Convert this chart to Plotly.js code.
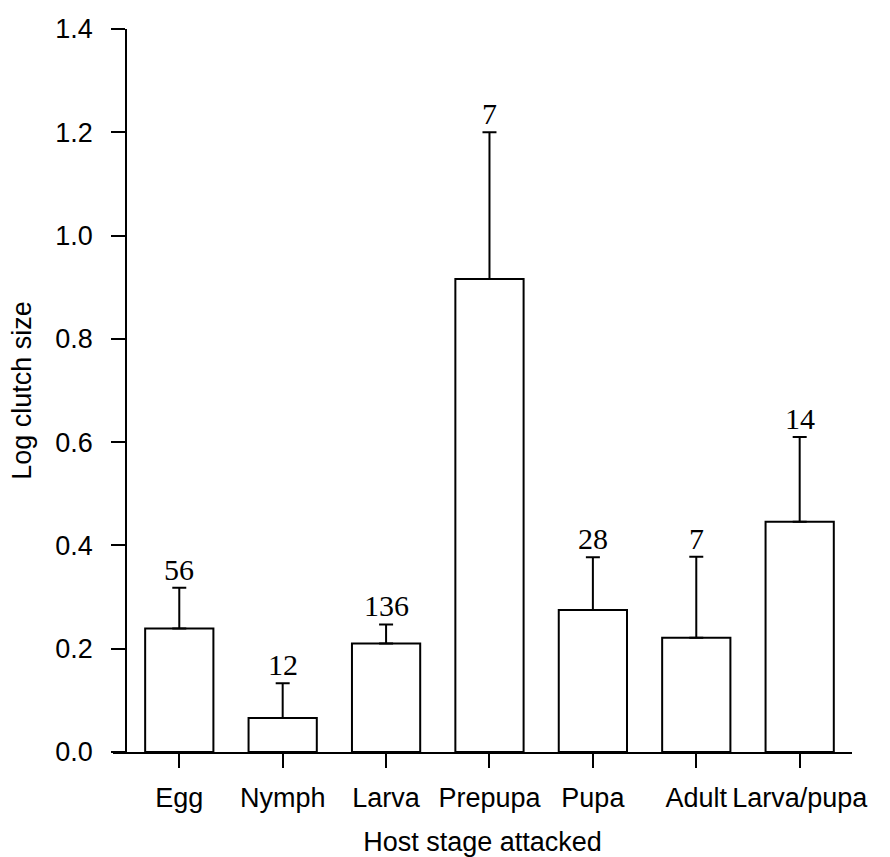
<!DOCTYPE html>
<html>
<head>
<meta charset="utf-8">
<script src="https://cdn.plot.ly/plotly-3.0.1.min.js"></script>
<style>html,body{margin:0;padding:0;background:#fff;}#chart{width:890px;height:857px;}</style>
</head>
<body>
<div id="chart"></div>
<script>
const stages = ["Egg", "Nymph", "Larva", "Prepupa", "Pupa", "Adult", "Larva/pupa"];
const logClutch = [0.239, 0.066, 0.210, 0.916, 0.275, 0.221, 0.446];
const errUpper = [0.079, 0.067, 0.037, 0.284, 0.102, 0.157, 0.164];
const sampleN = ["56", "12", "136", "7", "28", "7", "14"];
const yTicks = [0, 0.2, 0.4, 0.6, 0.8, 1.0, 1.2, 1.4];

const trace = {
  type: "bar",
  x: stages,
  y: logClutch,
  width: 0.66,
  marker: {color: "#ffffff", line: {color: "#000000", width: 2}},
  error_y: {type: "data", symmetric: false, array: errUpper, arrayminus: stages.map(() => 0),
            color: "#000000", thickness: 2, width: 7},
  hoverinfo: "x+y"
};

const annotations = stages.map((s, i) => ({
  x: s, y: logClutch[i] + errUpper[i], xref: "x", yref: "y",
  text: sampleN[i], showarrow: false, yanchor: "bottom", yshift: 0,
  font: {family: "Liberation Serif, Times New Roman, serif", size: 30, color: "#000"}
}));

const layout = {
  width: 890, height: 857,
  margin: {l: 113, r: 38, t: 29, b: 105, pad: 0},
  paper_bgcolor: "#fff", plot_bgcolor: "#fff",
  showlegend: false,
  font: {family: "Liberation Sans, Arial, sans-serif", size: 27, color: "#000"},
  xaxis: {
    type: "category", range: [-0.641, 6.506],
    showline: true, linecolor: "#000", linewidth: 2,
    ticks: "outside", ticklen: 14, tickwidth: 2, tickcolor: "#000",
    showgrid: false, zeroline: false,
    ticklabelstandoff: 7,
    tickfont: {size: 27},
    title: {text: "Host stage attacked", font: {size: 27}, standoff: 20},
    automargin: false
  },
  yaxis: {
    range: [0, 1.4], anchor: "free", position: 0.018,
    tickvals: yTicks, tickformat: ".1f",
    showline: true, linecolor: "#000", linewidth: 2,
    ticks: "outside", ticklen: 14, tickwidth: 2, tickcolor: "#000",
    showgrid: false, zeroline: false,
    ticklabelstandoff: 13,
    tickfont: {size: 27},
    title: {text: "Log clutch size", font: {size: 27}, standoff: 15},
    automargin: false
  },
  annotations: annotations
};

Plotly.newPlot("chart", [trace], layout, {displayModeBar: false, staticPlot: true});
</script>
</body>
</html>
